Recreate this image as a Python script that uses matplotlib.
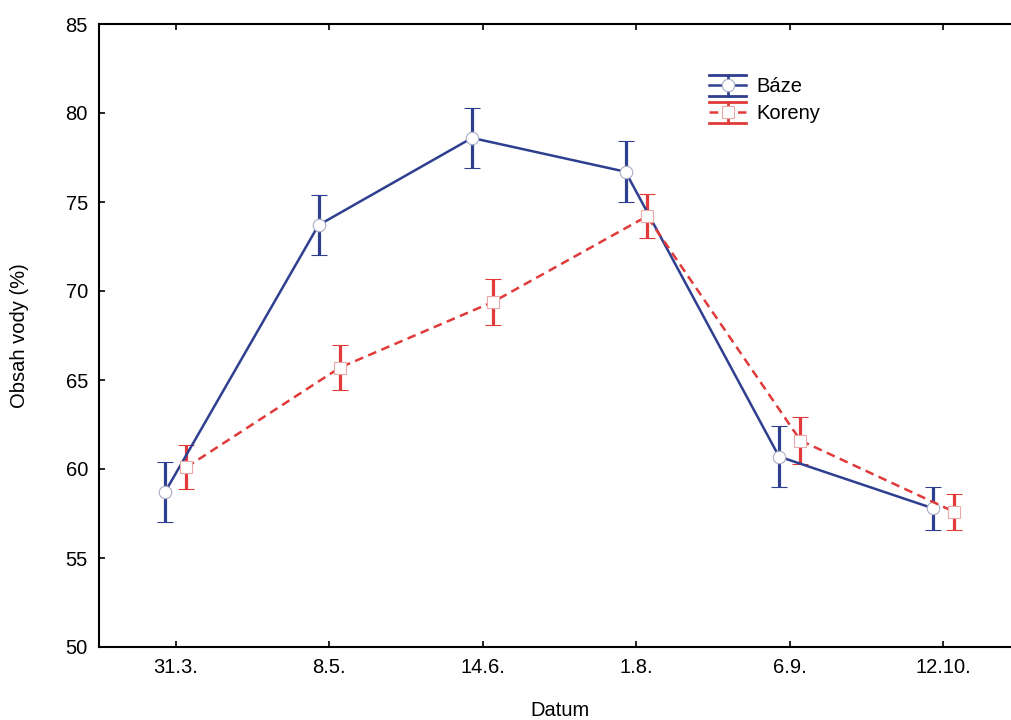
import matplotlib
matplotlib.use("Agg")
import matplotlib.pyplot as plt
from matplotlib.legend_handler import HandlerBase
from matplotlib.lines import Line2D
import numpy as np

plt.rcParams['font.family'] = ['Liberation Sans', 'DejaVu Sans']

dates = ["31.3.", "8.5.", "14.6.", "1.8.", "6.9.", "12.10."]
baze_mean = [58.7, 73.7, 78.6, 76.7, 60.7, 57.8]
baze_err = [1.7, 1.7, 1.7, 1.7, 1.7, 1.2]
koreny_mean = [60.1, 65.7, 69.4, 74.2, 61.6, 57.6]
koreny_err = [1.25, 1.25, 1.3, 1.25, 1.3, 1.0]

blue = "#2E3F8F"
red = "#E03A3A"

styles = {
    "Báze": dict(color=blue, ls='-', marker='o', ms=9, mec='#a8adc4'),
    "Koreny": dict(color=red, ls=(0, (3.5, 2.2)), marker='s', ms=8.3, mec='#eaa8a8'),
}


class ErrorLegendHandler(HandlerBase):
    """Legend key: whisker caps spanning the key, central line and marker."""

    def __init__(self, style):
        super().__init__()
        self.style = style

    def create_artists(self, legend, orig_handle, xdescent, ydescent,
                       width, height, fontsize, trans):
        s = self.style
        yc = height / 2 - ydescent
        dy = height * 0.62
        x0, x1 = -xdescent, -xdescent + width
        xm = (x0 + x1) / 2
        arts = [
            Line2D([x0, x1], [yc + dy, yc + dy], color=s['color'], lw=2),
            Line2D([x0, x1], [yc - dy, yc - dy], color=s['color'], lw=2),
            Line2D([xm, xm], [yc - dy, yc + dy], color=s['color'], lw=2),
            Line2D([x0, x1], [yc, yc], color=s['color'], lw=1.8, ls=s['ls']),
            Line2D([xm], [yc], marker=s['marker'], ms=s['ms'], mfc='white',
                   mec=s['mec'], mew=0.8, ls='none'),
        ]
        for a in arts:
            a.set_transform(trans)
        return arts


fig = plt.figure(figsize=(10.11, 7.2), dpi=100)
ax = fig.add_axes([99 / 1011, 1 - 647 / 720, (1020 - 99) / 1011, (647 - 24) / 720])

x = np.arange(len(dates))
off = 0.07

h1 = ax.errorbar(x - off, baze_mean, yerr=baze_err, color=blue, lw=1.8,
                 ls=styles["Báze"]['ls'], marker='o', ms=9, mfc='white',
                 mec=styles["Báze"]['mec'], mew=0.8,
                 capsize=6, capthick=2.3, elinewidth=2.3, zorder=3)
h2 = ax.errorbar(x + off, koreny_mean, yerr=koreny_err, color=red, lw=1.8,
                 ls=styles["Koreny"]['ls'], marker='s', ms=8.3, mfc='white',
                 mec=styles["Koreny"]['mec'], mew=0.8,
                 capsize=5.5, capthick=2.3, elinewidth=2.3, zorder=3)

ax.set_xlim(-0.5, 5.5)
ax.set_ylim(50, 85)
ax.set_yticks(range(50, 86, 5))
ax.set_xticks(x)
ax.set_xticklabels(dates)
ax.tick_params(direction='in', length=4, width=1.2, labelsize=14.5, top=True, pad=8)
for s in ['left', 'bottom', 'top']:
    ax.spines[s].set_linewidth(1.5)
ax.spines['right'].set_visible(False)

ax.set_xlabel("Datum", fontsize=14.5, labelpad=17)
ax.set_ylabel("Obsah vody (%)", fontsize=14.5, labelpad=26)

leg = ax.legend([h1, h2], ["Báze", "Koreny"],
                handler_map={h1: ErrorLegendHandler(styles["Báze"]),
                             h2: ErrorLegendHandler(styles["Koreny"])},
                loc='upper left', bbox_to_anchor=((699 - 99) / 921, 1 - (67 - 24) / 623),
                frameon=False, fontsize=14.5, handlelength=1.85, handleheight=0.9,
                labelspacing=0.38, handletextpad=0.5, borderpad=0)

fig.savefig("out.png", dpi=100)
